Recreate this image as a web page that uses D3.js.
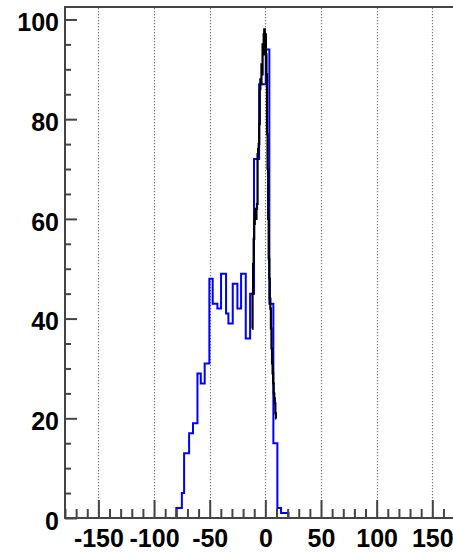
<!DOCTYPE html>
<html>
<head>
<meta charset="utf-8">
<script src="https://cdn.jsdelivr.net/npm/d3@7"></script>
<style>
  html, body { margin: 0; padding: 0; background: #fff; }
  svg { display: block; }
  .tick text { font-family: "Liberation Sans", Arial, Helvetica, sans-serif; font-weight: bold; }
</style>
</head>
<body>
<svg id="chart" width="453" height="553"></svg>
<script>
// Wide distribution (blue): variable-width bin edges and their counts
const blueEdges = [-80, -75, -73, -68.5, -65, -61, -58, -54.5, -50.3, -47.3, -43.1, -39.8,
  -35.3, -33.2, -29.3, -25.1, -21.8, -17.6, -13.7, -10.2, -5.6, 0.4, 3.6, 7.2, 10.8, 14.1, 20.7];
const blueCounts = [2, 5, 13, 17, 19, 29, 27, 31, 48, 43, 42, 49,
  41, 39, 47, 42, 49, 36, 45, 72, 87, 94, 43, 15, 2, 1];

// Narrow distribution (black): fixed-width bins starting at blackStart
const blackStart = -12;
const blackBinWidth = 0.5;
const blackCounts = [38, 45, 51, 56, 59, 61, 62, 60, 62, 63,
  73, 74, 75, 79, 86, 88, 87, 91, 89, 95,
  93, 97, 98, 96, 97, 93, 89, 77, 70, 60,
  52, 48, 44, 42, 38, 34, 31, 29, 27, 25,
  24, 23, 21, 20];

// Axis ticks
const xTicks = [-150, -100, -50, 0, 50, 100, 150];
const xMinorTicks = d3.range(-180, 181, 10).filter(v => v % 50 !== 0);
const yTicks = [0, 20, 40, 60, 80, 100];
const yMinorTicks = d3.range(0, 101, 5).filter(v => v % 20 !== 0);

const frame = { left: 65, right: 465.7, top: 7, bottom: 518 };
const x = d3.scaleLinear().domain([-180, 180]).range([frame.left, frame.right]);
const y = d3.scaleLinear().domain([0, 102.5]).range([frame.bottom, frame.top]);

const svg = d3.select("#chart");
const axisColor = "#444";
const plainLabel = d => String(d); // ASCII hyphen for negatives

// vertical dotted grid at major x ticks
svg.append("g")
  .selectAll("line")
  .data(xTicks)
  .join("line")
  .attr("x1", d => Math.round(x(d)) + 0.5)
  .attr("x2", d => Math.round(x(d)) + 0.5)
  .attr("y1", frame.top + 1)
  .attr("y2", frame.bottom)
  .attr("stroke", "#777")
  .attr("stroke-width", 1.2)
  .attr("stroke-dasharray", "1.2,1.8");

// step outlines
const line = d3.line().x(d => x(d[0])).y(d => y(d[1]));

const bluePts = [[blueEdges[0], 0]];
blueCounts.forEach((c, i) => {
  bluePts.push([blueEdges[i], c], [blueEdges[i + 1], c]);
});
bluePts.push([blueEdges[blueEdges.length - 1], 0]);

const blackPts = [];
blackCounts.forEach((c, i) => {
  const lo = blackStart + i * blackBinWidth;
  blackPts.push([lo, c], [lo + blackBinWidth, c]);
});

svg.append("path")
  .attr("d", line(bluePts))
  .attr("fill", "none")
  .attr("stroke", "#0000ff")
  .attr("stroke-width", 2);

svg.append("path")
  .attr("d", line(blackPts))
  .attr("fill", "none")
  .attr("stroke", "#000")
  .attr("stroke-width", 2.2);

// x axis: major ticks with labels, minor ticks, pointing into the frame
svg.append("g")
  .attr("transform", `translate(0,${frame.bottom})`)
  .call(d3.axisBottom(x).tickValues(xTicks).tickFormat(plainLabel)
    .tickSize(-18).tickPadding(11.5).tickSizeOuter(0));
svg.append("g")
  .attr("transform", `translate(0,${frame.bottom})`)
  .call(d3.axisBottom(x).tickValues(xMinorTicks).tickSize(-9).tickFormat("").tickSizeOuter(0));

// y axis
const yAxis = svg.append("g")
  .attr("transform", `translate(${frame.left},0)`)
  .call(d3.axisLeft(y).tickValues(yTicks).tickFormat(plainLabel)
    .tickSize(-12).tickPadding(6).tickSizeOuter(0));
svg.append("g")
  .attr("transform", `translate(${frame.left},0)`)
  .call(d3.axisLeft(y).tickValues(yMinorTicks).tickSize(-6).tickFormat("").tickSizeOuter(0));

svg.selectAll(".domain").remove();
svg.selectAll(".tick line").attr("stroke", axisColor).attr("stroke-width", 2);
svg.selectAll(".tick text")
  .attr("fill", "#000")
  .style("font-size", "25px");
yAxis.selectAll(".tick text").attr("dy", "0.45em");

// frame
svg.append("rect")
  .attr("x", frame.left)
  .attr("y", frame.top)
  .attr("width", frame.right - frame.left)
  .attr("height", frame.bottom - frame.top)
  .attr("fill", "none")
  .attr("stroke", axisColor)
  .attr("stroke-width", 2);
</script>
</body>
</html>
